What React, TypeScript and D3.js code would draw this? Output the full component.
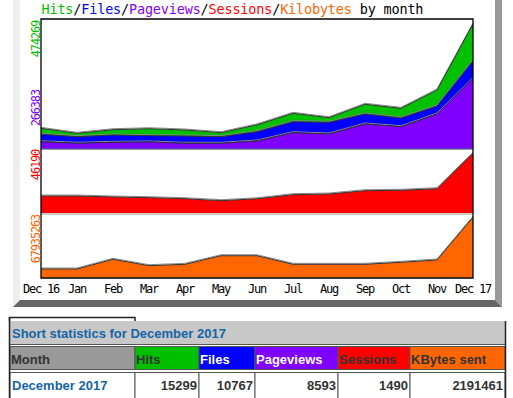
import React, { useRef, useEffect } from "react";
import { select, scaleLinear, scalePoint, area, line } from "d3";

// monthly totals (Dec 17 from the table: daily avg * 31)
const months = ["Dec 16", "Jan", "Feb", "Mar", "Apr", "May", "Jun", "Jul", "Aug", "Sep", "Oct", "Nov", "Dec 17"];
const hits = [76950, 57900, 71600, 75400, 70500, 60200, 90000, 134100, 117300, 168400, 153100, 222800, 474269];
const files = [54100, 45000, 51400, 48800, 47600, 45000, 64000, 102100, 99800, 131400, 116200, 161900, 333777];
const pageviews = [25900, 19800, 23600, 24800, 19800, 19800, 28600, 60200, 55200, 93300, 83000, 131400, 266383];
const sessions = [13150, 13150, 12380, 11840, 11060, 9520, 10990, 14160, 14700, 17250, 17560, 18800, 46190];
const kilobytes = [9790000, 9790000, 20700000, 13500000, 15070000, 24700000, 24700000, 15070000, 15070000, 15070000, 17300000, 19900000, 67935263];

const titleParts = [
  { t: "Hits", c: "#00c000" }, { t: "/", c: "#000" },
  { t: "Files", c: "#0000ff" }, { t: "/", c: "#000" },
  { t: "Pageviews", c: "#8000ff" }, { t: "/", c: "#000" },
  { t: "Sessions", c: "#ff0000" }, { t: "/", c: "#000" },
  { t: "Kilobytes", c: "#ff6600" }, { t: " by month", c: "#000" },
];

const statsTitle = "Short statistics for December 2017";
const statHeaders = ["Month", "Hits", "Files", "Pageviews", "Sessions", "KBytes sent"];
const statHeaderFill = ["#999999", "#00c000", "#0000ff", "#8000ff", "#ff0000", "#ff6600"];
const statHeaderText = ["#333333", "#333333", "#ffffff", "#ffffff", "#333333", "#333333"];
const statRow = ["December 2017", "15299", "10767", "8593", "1490", "2191461"];

const mono = "'DejaVu Sans Mono', monospace";
const sans = "'Liberation Sans', Arial, sans-serif";

const App: React.FC = () => {
  const svgRef = useRef<SVGSVGElement>(null);

  useEffect(() => {
    const svg = select(svgRef.current);
    svg.selectAll("*").remove();

    // frame bevels of the webalizer image
    svg.append("polygon").attr("points", "13,0 20,0 20,300 13,307").attr("fill", "#eeeeee");
    svg.append("polygon").attr("points", "495,0 502,0 502,307 495,300").attr("fill", "#999999");
    svg.append("polygon").attr("points", "20,300 495,300 502,307 13,307").attr("fill", "#666666");

    const left = 41, right = 473;
    const x = scalePoint<string>().domain(months).range([left, right]);
    const yTop = scaleLinear().domain([0, Math.max(...hits)]).range([148.5, 24]);
    const yMid = scaleLinear().domain([0, Math.max(...sessions)]).range([213, 153.3]);
    const yBot = scaleLinear().domain([0, Math.max(...kilobytes)]).range([277.7, 217.3]);

    // title
    const title = svg.append("text")
      .attr("x", 41.5).attr("y", 14)
      .attr("font-family", mono).attr("font-size", 13.5)
      .attr("textLength", 382).attr("lengthAdjust", "spacing");
    titleParts.forEach((p) => title.append("tspan").attr("fill", p.c).text(p.t));

    const drawArea = (vals: number[], y: (v: number) => number, fill: string) => {
      const pts = vals.map((v, i) => [x(months[i])!, y(v)] as [number, number]);
      const base = y(0);
      svg.append("path")
        .datum(pts)
        .attr("fill", fill)
        .attr("d", area<[number, number]>().x((d) => d[0]).y0(base).y1((d) => d[1]));
      svg.append("path")
        .datum(pts)
        .attr("fill", "none").attr("stroke", "#8a8a8a").attr("stroke-width", 1)
        .attr("transform", "translate(0,-1)")
        .attr("d", line<[number, number]>().x((d) => d[0]).y((d) => d[1]));
      svg.append("path")
        .datum(pts)
        .attr("fill", "none").attr("stroke", "#333333").attr("stroke-width", 1)
        .attr("d", line<[number, number]>().x((d) => d[0]).y((d) => d[1]));
    };

    drawArea(hits, yTop, "#00c000");
    drawArea(files, yTop, "#0000ff");
    drawArea(pageviews, yTop, "#8000ff");
    drawArea(sessions, yMid, "#ff0000");
    drawArea(kilobytes, yBot, "#ff6600");

    // panel separators
    svg.append("line").attr("x1", left).attr("x2", right).attr("y1", 149.5).attr("y2", 149.5).attr("stroke", "#999");
    svg.append("line").attr("x1", left).attr("x2", right).attr("y1", 214).attr("y2", 214).attr("stroke", "#999");

    // frame
    svg.append("path")
      .attr("d", `M${left},278 L${left},19 L${right},19 L${right},278 Z`)
      .attr("fill", "none").attr("stroke", "#000").attr("stroke-width", 1.3);

    // x labels
    svg.append("g").selectAll("text").data(months).join("text")
      .attr("x", (d) => x(d)!).attr("y", 293)
      .attr("text-anchor", "middle")
      .attr("font-family", mono).attr("font-size", 12).attr("letter-spacing", -1.2)
      .attr("fill", "#000").text((d) => d);

    // rotated max labels
    const yLabels = [
      { v: Math.max(...hits), y: yTop(Math.max(...hits)) - 3, c: "#00c000" },
      { v: Math.max(...pageviews), y: yTop(Math.max(...pageviews)) + 11.5, c: "#8000ff" },
      { v: Math.max(...sessions), y: yMid(Math.max(...sessions)) - 3.3, c: "#ff0000" },
      { v: Math.max(...kilobytes), y: yBot(Math.max(...kilobytes)) - 2.3, c: "#ff6600" },
    ];
    svg.append("g").selectAll("text").data(yLabels).join("text")
      .attr("transform", (d) => `translate(39.5,${d.y}) rotate(-90)`)
      .attr("text-anchor", "end")
      .attr("font-family", mono).attr("font-size", 12).attr("letter-spacing", -1.2)
      .attr("fill", (d) => d.c).text((d) => String(d.v));

    // short statistics table
    const cols = [10, 135, 199, 255, 338, 410, 505];
    const t = svg.append("g").attr("font-family", sans).attr("font-weight", "bold").attr("font-size", 13);
    t.append("path").attr("d", "M9.5,321 L9.5,317.5 L135,317.5 L135,321").attr("fill", "none").attr("stroke", "#222").attr("stroke-width", 1.5);
    t.append("rect").attr("x", 10).attr("y", 321).attr("width", 495).attr("height", 23).attr("fill", "#c8c8c8");
    t.append("text").attr("x", 12).attr("y", 338).attr("fill", "#1565a6").text(statsTitle);
    t.append("line").attr("x1", 10).attr("x2", 505).attr("y1", 344.5).attr("y2", 344.5).attr("stroke", "#555");

    statHeaders.forEach((h, i) => {
      t.append("rect")
        .attr("x", cols[i]).attr("y", 346.5).attr("width", cols[i + 1] - cols[i]).attr("height", 23)
        .attr("fill", statHeaderFill[i]).attr("stroke", "#555").attr("stroke-width", 1);
      t.append("text").attr("x", cols[i] + 1).attr("y", 364).attr("fill", statHeaderText[i]).text(h);
    });
    statRow.forEach((v, i) => {
      t.append("rect")
        .attr("x", cols[i]).attr("y", 372.5).attr("width", cols[i + 1] - cols[i]).attr("height", 30)
        .attr("fill", "#fff").attr("stroke", "#555").attr("stroke-width", 1);
      t.append("text")
        .attr("x", i === 0 ? cols[i] + 2 : cols[i + 1] - 2)
        .attr("y", 390)
        .attr("text-anchor", i === 0 ? "start" : "end")
        .attr("fill", i === 0 ? "#1565a6" : "#333333")
        .text(v);
    });
    t.append("line").attr("x1", 9.5).attr("x2", 9.5).attr("y1", 317).attr("y2", 398).attr("stroke", "#222").attr("stroke-width", 1.5);
    t.append("line").attr("x1", 505.5).attr("x2", 505.5).attr("y1", 321).attr("y2", 398).attr("stroke", "#222").attr("stroke-width", 1.5);
  }, []);

  return (
    <svg
      ref={svgRef}
      width={513}
      height={398}
      style={{ position: "absolute", left: 0, top: 0, background: "#fff" }}
    />
  );
};

export default App;
